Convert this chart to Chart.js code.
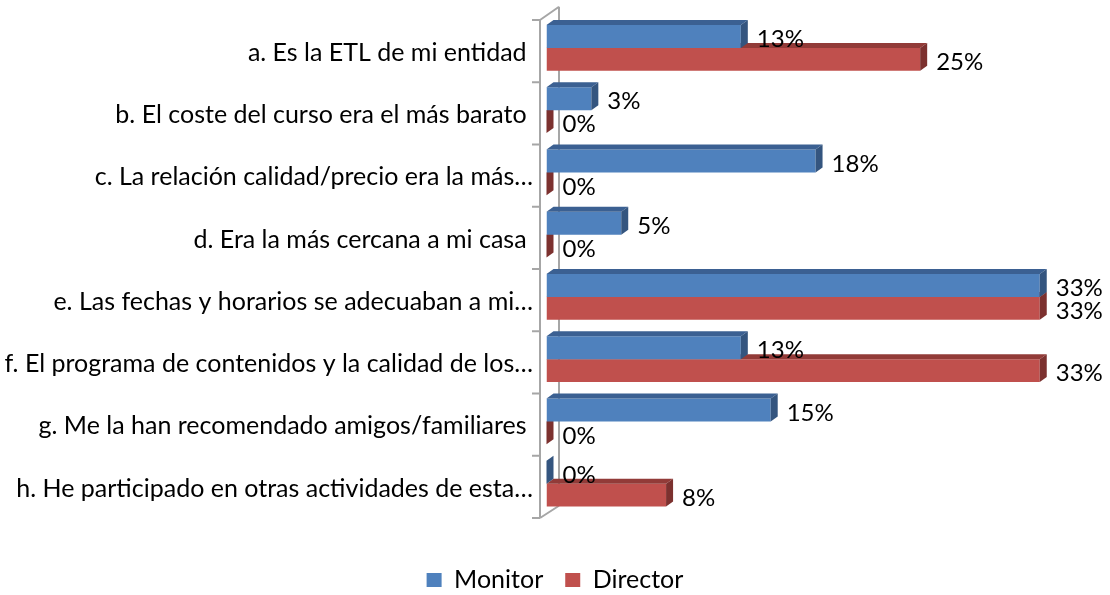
<!DOCTYPE html>
<html>
<head>
<meta charset="utf-8">
<script src="https://cdn.jsdelivr.net/npm/chart.js@4"></script>
<style>
  html, body { margin: 0; padding: 0; background: #fff; }
  #wrap { width: 1110px; height: 595px; }
</style>
</head>
<body>
<div id="wrap"><canvas id="chart" width="1110" height="595"></canvas></div>
<script>
const categories = [
    "a. Es la ETL de mi entidad ",
    "b. El coste del curso era el más barato ",
    "c. La relación calidad/precio era la más…",
    "d. Era la más cercana a mi casa ",
    "e. Las fechas y horarios se adecuaban a mi…",
    "f. El programa de contenidos y la calidad de los…",
    "g. Me la han recomendado amigos/familiares ",
    "h. He participado en otras actividades de esta…"
];
const monitor = [13, 3, 18, 5, 33, 13, 15, 0];
const director = [25, 0, 0, 0, 33, 33, 0, 8];

const FONT = "Lato, 'Open Sans', sans-serif";
const faces = [
    {top: '#3b6092', side: '#34557f'},
    {top: '#923b38', side: '#7c312f'}
];

// fake 3d look: wall, top and side faces, value labels
const bars3d = {
    id: 'bars3d',
    beforeDatasetsDraw(chart) {
        const ctx = chart.ctx, a = chart.chartArea, y = chart.scales.y;
        const step = y.getPixelForValue(1) - y.getPixelForValue(0);
        const fx = a.left - 6.5, bx = a.left + 12.5;
        const ft = a.top + 3.25, fb = a.bottom + 3.25;
        const bt = a.top - 10, bb = a.bottom - 9;
        ctx.save();
        ctx.strokeStyle = '#a6a6a6';
        ctx.lineWidth = 2;
        ctx.beginPath();
        ctx.moveTo(bx, bt); ctx.lineTo(bx, bb);
        ctx.moveTo(fx, ft); ctx.lineTo(bx, bt);
        ctx.moveTo(fx, fb); ctx.lineTo(bx, bb);
        ctx.moveTo(fx, ft); ctx.lineTo(fx, fb);
        for (let i = 0; i <= categories.length; i++) {
            const ty = y.getPixelForValue(i) - step / 2 + 3.25;
            ctx.moveTo(fx - 8, ty); ctx.lineTo(fx, ty);
        }
        ctx.stroke();
        ctx.restore();
    },
    afterDatasetDraw(chart, args) {
        const ctx = chart.ctx, f = faces[args.index];
        const dx = 7, dy = 5;
        ctx.save();
        args.meta.data.forEach(bar => {
            const p = bar.getProps(['x', 'y', 'base', 'height'], true);
            const x0 = p.base, x1 = p.x;
            const t = p.y - p.height / 2, b = p.y + p.height / 2;
            ctx.fillStyle = f.top;
            ctx.beginPath();
            ctx.moveTo(x0, t); ctx.lineTo(x1, t);
            ctx.lineTo(x1 + dx, t - dy); ctx.lineTo(x0 + dx, t - dy);
            ctx.closePath(); ctx.fill();
            ctx.fillStyle = f.side;
            ctx.beginPath();
            ctx.moveTo(x1, t); ctx.lineTo(x1 + dx, t - dy);
            ctx.lineTo(x1 + dx, b - dy); ctx.lineTo(x1, b);
            ctx.closePath(); ctx.fill();
        });
        ctx.restore();
    },
    afterDatasetsDraw(chart) {
        const ctx = chart.ctx;
        ctx.save();
        ctx.font = '24px ' + FONT;
        ctx.fillStyle = '#000';
        ctx.textBaseline = 'middle';
        ctx.textAlign = 'left';
        chart.data.datasets.forEach((ds, di) => {
            chart.getDatasetMeta(di).data.forEach((bar, i) => {
                const p = bar.getProps(['x', 'y'], true);
                ctx.fillText(ds.data[i] + '%', p.x + 16, p.y + 3);
            });
        });
        ctx.restore();
    }
};

new Chart(document.getElementById('chart'), {
    type: 'bar',
    data: {
        labels: categories,
        datasets: [{
            label: 'Monitor',
            data: monitor,
            backgroundColor: '#4f81bd',
            categoryPercentage: 0.736,
            barPercentage: 1
        }, {
            label: 'Director',
            data: director,
            backgroundColor: '#c0504d',
            categoryPercentage: 0.736,
            barPercentage: 1
        }]
    },
    options: {
        indexAxis: 'y',
        responsive: false,
        animation: false,
        layout: {padding: {top: 16.75, right: 0, bottom: -7.5, left: 0}},
        scales: {
            x: {
                min: 0,
                max: 37.7,
                grid: {display: false},
                border: {display: false},
                ticks: {display: false},
                afterFit(scale) { scale.height = 30.75; }
            },
            y: {
                grid: {display: false, drawTicks: false},
                border: {display: false},
                ticks: {
                    color: '#000',
                    font: {family: FONT, size: 25},
                    padding: 13.5,
                    labelOffset: 5,
                    autoSkip: false
                },
                afterFit(scale) {
                    scale.width = 546.5;
                    scale.paddingTop = 0;
                    scale.paddingBottom = 0;
                }
            }
        },
        plugins: {
            legend: {
                position: 'bottom',
                labels: {
                    color: '#000',
                    font: {family: FONT, size: 25},
                    boxWidth: 15,
                    boxHeight: 14,
                    padding: 22
                }
            },
            tooltip: {enabled: false}
        }
    },
    plugins: [bars3d]
});
</script>
</body>
</html>
